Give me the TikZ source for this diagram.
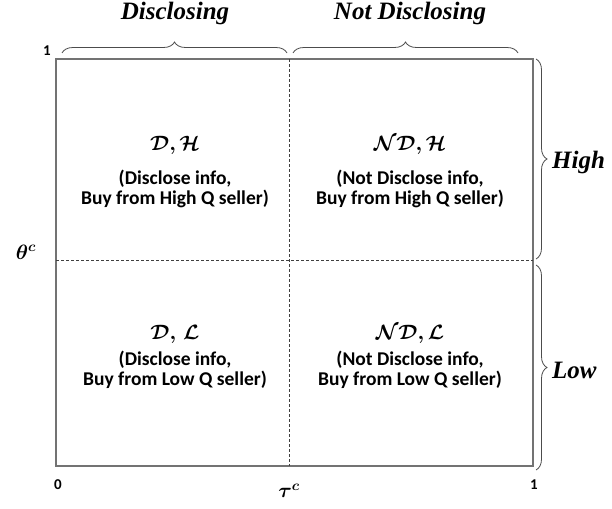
\documentclass[tikz,border=0pt]{standalone}
\usepackage{amsmath}
\usepackage{bm}
\usepackage{fontspec}
\setmainfont{Carlito}
\newfontfamily\timesbi{Liberation Serif Bold Italic}
\usetikzlibrary{decorations.pathreplacing}
\begin{document}
\begin{tikzpicture}[x=1pt,y=-1pt,
  frame/.style={draw=black!55,line width=1.3pt},
  divider/.style={draw=black!75,dashed,line width=0.6pt,dash pattern=on 3pt off 2pt},
  brace/.style={draw=black!70,line width=0.8pt,decorate,decoration={brace,amplitude=11pt}},
  head/.style={font=\timesbi\fontsize{25}{27}\selectfont},
  side/.style={font=\timesbi\fontsize{25}{27}\selectfont,anchor=west,inner sep=1pt},
  title/.style={font=\fontsize{22}{24}\selectfont},
  body/.style={font=\bfseries\fontsize{19.5}{19.5}\selectfont,align=center},
  tick/.style={font=\bfseries\fontsize{15}{17}\selectfont},
  axis/.style={font=\fontsize{21}{23}\selectfont}]
\useasboundingbox (0,0) rectangle (612,508);
\coordinate (tl) at (56,59);
\coordinate (br) at (533,466);
\draw[frame] (tl) rectangle (br);
\coordinate (vt) at (289,59);
\coordinate (vb) at (289,466);
\coordinate (hl) at (56,260);
\coordinate (hr) at (533,260);
\draw[divider] (vt) -- (vb);
\draw[divider] (hl) -- (hr);
% top braces
\coordinate (b1a) at (62,53);
\coordinate (b1b) at (287,53);
\coordinate (b2a) at (293,53);
\coordinate (b2b) at (518,53);
\draw[brace] (b1a) -- (b1b);
\draw[brace] (b2a) -- (b2b);
\node[head] (disc) at (175,13) {Disclosing};
\node[head] (ndisc) at (410,13) {Not Disclosing};
% right braces
\coordinate (r1a) at (536,59);
\coordinate (r1b) at (536,259);
\coordinate (r2a) at (536,265);
\coordinate (r2b) at (536,470);
\draw[brace] (r1a) -- (r1b);
\draw[brace] (r2a) -- (r2b);
\node[side] (high) at (551,162) {High};
\node[side] (low) at (551,370) {Low};
% quadrant texts
\node[title] (q1t) at (175,145) {$\boldsymbol{\mathcal{D},\mathcal{H}}$};
\node[body] (q1b) at (175,189) {(Disclose info,\\ Buy from High Q seller)};
\node[title] (q2t) at (410,145) {$\boldsymbol{\mathcal{ND},\mathcal{H}}$};
\node[body] (q2b) at (410,189) {(Not Disclose info,\\ Buy from High Q seller)};
\node[title] (q3t) at (175,334) {$\boldsymbol{\mathcal{D},\,\mathcal{L}}$};
\node[body] (q3b) at (175,370) {(Disclose info,\\ Buy from Low Q seller)};
\node[title] (q4t) at (410,334) {$\boldsymbol{\mathcal{ND},\mathcal{L}}$};
\node[body] (q4b) at (410,370) {(Not Disclose info,\\ Buy from Low Q seller)};
% axis labels
\node[tick] (one) at (47,51) {1};
\node[tick] (zero) at (58,485) {0};
\node[tick] (onex) at (534,485) {1};
\node[axis] (theta) at (26,252) {$\boldsymbol{\theta^{c}}$};
\node[axis] (tau) at (289,491) {$\boldsymbol{\tau^{c}}$};
\end{tikzpicture}
\end{document}
